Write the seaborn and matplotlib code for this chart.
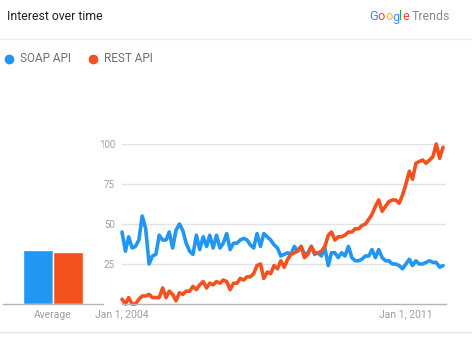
import matplotlib
matplotlib.use("Agg")
import matplotlib.pyplot as plt
from matplotlib.lines import Line2D
import seaborn as sns
import pandas as pd

# ---------------- data ----------------
series_names = ["SOAP API", "REST API"]
months = pd.date_range("2004-01-01", periods=96, freq="MS")
soap = [45, 33, 42, 35, 36, 40, 55, 47, 25, 30,
        31, 43, 40, 40, 45, 35, 46, 50, 46, 38,
        33, 31, 43, 34, 42, 36, 43, 35, 43, 35,
        38, 44, 34, 38, 38, 40, 41, 40, 37, 35,
        44, 36, 44, 42, 40, 37, 35, 30, 31, 32,
        31, 36, 33, 36, 31, 32, 36, 31, 32, 30,
        35, 24, 32, 32, 29, 32, 30, 36, 29, 27,
        27, 28, 30, 30, 34, 29, 34, 29, 27, 27,
        25, 25, 24, 22, 25, 28, 24, 27, 25, 25,
        26, 27, 26, 26, 23, 24]
rest = [3, 0, 4, 0, 0, 3, 5, 5, 6, 4,
        4, 4, 10, 4, 8, 6, 2, 7, 6, 8,
        8, 11, 9, 12, 14, 10, 13, 12, 14, 13,
        15, 14, 9, 13, 13, 16, 15, 17, 17, 19,
        24, 25, 16, 20, 19, 24, 22, 27, 23, 28,
        31, 32, 33, 36, 29, 31, 36, 32, 32, 33,
        36, 43, 45, 40, 42, 42, 43, 45, 45, 47,
        47, 49, 50, 53, 56, 61, 65, 58, 61, 64,
        65, 65, 63, 68, 75, 83, 78, 88, 89, 90,
        88, 90, 92, 100, 91, 98]
averages = [34, 32.5]
avg_label = "Average"
y_ticks = [25, 50, 75, 100]
x_tick_dates = ["2004-01-01", "2011-01-01"]
x_tick_labels = ["Jan 1, 2004", "Jan 1, 2011"]
title = "Interest over time"
brand_word = "Google"
brand_tail = "Trends"

# ---------------- style ----------------
colors = ["#2196F3", "#F4511E"]
brand_colors = ["#4285F4", "#EA4335", "#FBBC05", "#4285F4", "#34A853", "#EA4335"]
sns.set_theme(style="white")
plt.rcParams["font.family"] = ["Roboto", "DejaVu Sans"]

W, H = 472, 341
fig = plt.figure(figsize=(W / 100, H / 100), dpi=100)


def fy(py):
    return 1 - py / H


# ---------------- main line chart ----------------
ax = fig.add_axes([122 / W, (H - 304) / H, 324 / W, 160 / H])
df = pd.DataFrame({
    "date": list(months) * 2,
    "value": soap + rest,
    "series": [series_names[0]] * len(soap) + [series_names[1]] * len(rest),
})
sns.lineplot(data=df, x="date", y="value", hue="series", hue_order=series_names,
             palette=colors, linewidth=2.6, ax=ax, legend=False)
for ln in ax.lines:
    ln.set_clip_on(False)
    ln.set_solid_joinstyle("round")
    ln.set_solid_capstyle("round")
ax.set_ylim(0, 100)
ax.set_xlim(months[0], months[-1] + pd.Timedelta(days=27))
ax.set_yticks(y_ticks)
ax.set_yticklabels([str(v) for v in y_ticks])
ax.set_xticks(pd.to_datetime(x_tick_dates))
ax.set_xticklabels(x_tick_labels)
ax.yaxis.grid(True, color="#e4e4e4", linewidth=1)
ax.xaxis.grid(False)
ax.set_axisbelow(True)
for s in ["top", "right", "left"]:
    ax.spines[s].set_visible(False)
ax.spines["bottom"].set_color("#b5b5b5")
ax.spines["bottom"].set_linewidth(1)
ax.tick_params(axis="y", length=0, pad=5, labelsize=7, labelcolor="#9e9e9e")
ax.tick_params(axis="x", length=0, pad=4, labelsize=7.5, labelcolor="#9e9e9e")
ax.set_xlabel("")
ax.set_ylabel("")

# ---------------- average bars ----------------
ax2 = fig.add_axes([3 / W, (H - 304) / H, 100 / W, 160 / H])
sns.barplot(x=series_names, y=averages, hue=series_names, hue_order=series_names,
            palette=colors, width=1, saturation=1, ax=ax2, legend=False)
ax2.set_xlim(-1.167, 2.167)
ax2.set_ylim(0, 100)
ax2.set_xticks([0.5])
ax2.set_xticklabels([avg_label])
ax2.set_yticks([])
for s in ["top", "right", "left"]:
    ax2.spines[s].set_visible(False)
ax2.spines["bottom"].set_color("#b5b5b5")
ax2.spines["bottom"].set_linewidth(1)
ax2.tick_params(axis="x", length=0, pad=4, labelsize=7.5, labelcolor="#9e9e9e")
ax2.set_xlabel("")
ax2.set_ylabel("")

# ---------------- header ----------------
fig.text(7 / W, fy(17), title, fontsize=8.8, color="#212121", va="center", ha="left")

renderer = fig.canvas.get_renderer()
xpos = 369 / W
for ch, c in zip(brand_word, brand_colors):
    t = fig.text(xpos, fy(17), ch, fontsize=9.2, color=c, va="center", ha="left")
    bb = t.get_window_extent(renderer)
    xpos = bb.x1 / fig.bbox.width
fig.text(xpos + 2 / W, fy(17), brand_tail, fontsize=8.8, color="#8a8a8a",
         va="center", ha="left")

fig.add_artist(Line2D([0, 1], [fy(39), fy(39)], color="#ededed", linewidth=1,
                      transform=fig.transFigure))
fig.add_artist(Line2D([0, 1], [fy(332), fy(332)], color="#e6e6e6", linewidth=1,
                      transform=fig.transFigure))

# ---------------- legend ----------------
legend_x = [8.5, 92.5]
for name, c, lx in zip(series_names, colors, legend_x):
    fig.add_artist(Line2D([lx / W], [fy(59)], marker="o", markersize=6,
                          color=c, linestyle="none", transform=fig.transFigure))
    fig.text((lx + 12) / W, fy(59), name, fontsize=8.5, color="#6f6f6f",
             va="center", ha="left")

fig.savefig("out.png", dpi=100)
